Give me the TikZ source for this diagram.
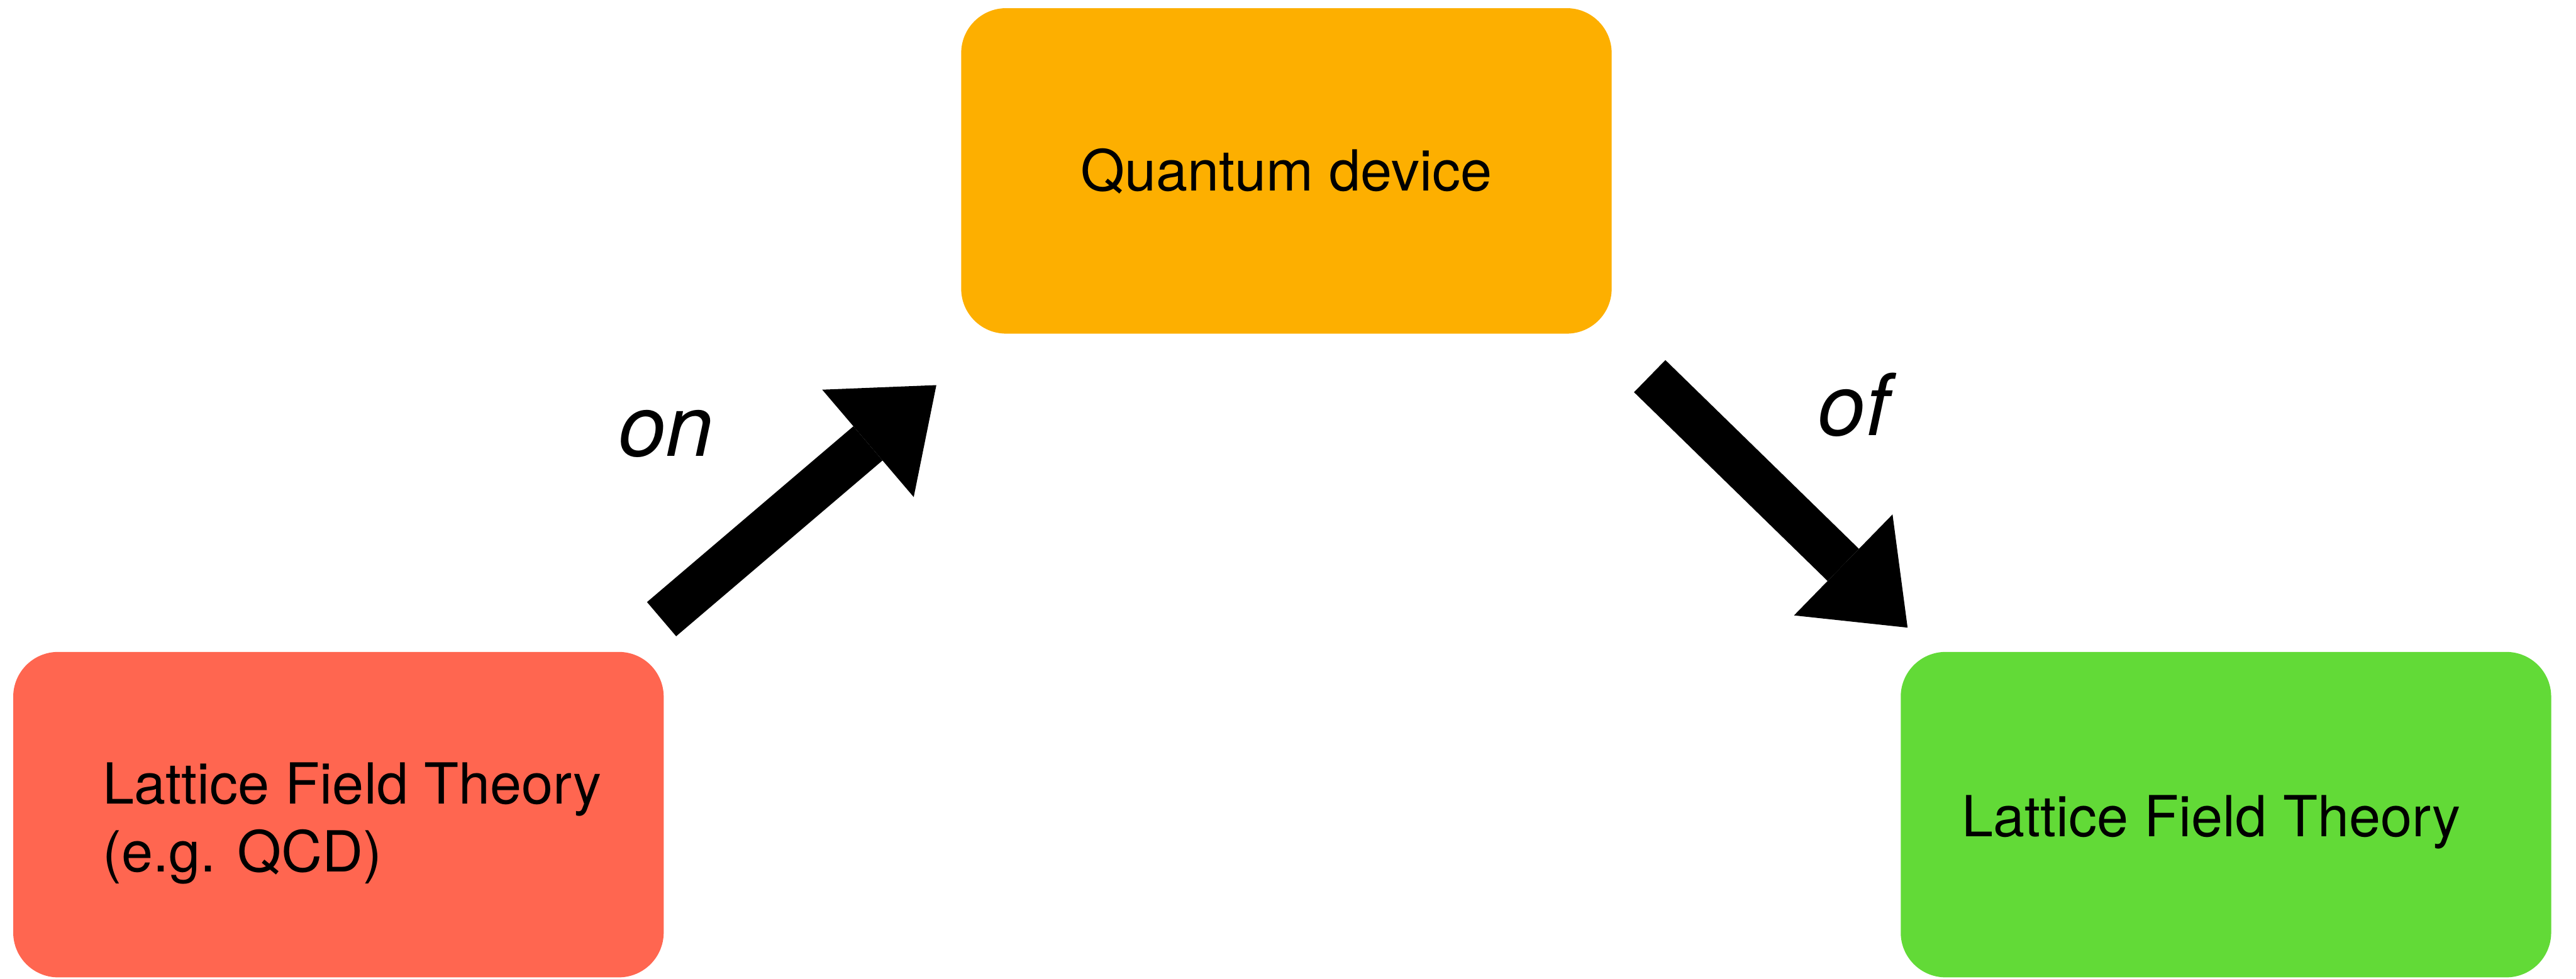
\documentclass[tikz,border=0pt]{standalone}
\usepackage{fontspec}
\setmainfont{TeX Gyre Heros}
\usetikzlibrary{arrows.meta}
\definecolor{qorange}{HTML}{FDAF00}
\definecolor{lftred}{HTML}{FF6650}
\definecolor{rgtgreen}{HTML}{62DA37}
\begin{document}
\begin{tikzpicture}
[boxdecorate/.style={shape=rectangle,rounded corners=0.85cm,%
    minimum width=12.31cm,minimum height=6.16cm,inner sep=0pt},%
  textdecorate/.style={font=\fontsize{30.5}{36.4}\selectfont,inner sep=0pt},%
  labeldecorate/.style={font=\fontsize{46}{55}\selectfont\itshape,inner sep=0pt,anchor=base},%
  arrowdecorate/.style={line width=0.85cm,%
    -{Triangle[length=1.7cm,width=2.67cm,line width=0pt]}}]
\useasboundingbox (0,0) rectangle (48.75,18.52);
%% boxes
\foreach \nodename/\x/\y/\col in {
  lft/6.405/3.10/lftred, qdev/24.345/15.285/qorange, rgt/42.125/3.10/rgtgreen}
{
  \node (\nodename) at (\x,\y) [boxdecorate,fill=\col] {};
}
%% box texts
\node (qdevtext) at (qdev) [textdecorate] {Quantum device};
\node (lfttext) at (1.94,4.09) [textdecorate,anchor=north west,align=left]
  {Lattice Field Theory\\(e.g. QCD)};
\node (rgttext) at (37.12,2.69) [textdecorate,anchor=base west] {Lattice Field Theory};
%% arrow ends
\foreach \nodename/\x/\y in {
  ontail/12.52/6.80, ontip/17.72/11.23,
  oftail/31.22/11.40, oftip/36.10/6.64}
{
  \coordinate (\nodename) at (\x,\y);
}
%% arrows and their words
\foreach \startnode/\endnode in {ontail/ontip, oftail/oftip}
{
  \draw[arrowdecorate] (\startnode) -- (\endnode);
}
\node (onlabel) at (12.60,9.89) [labeldecorate] {on};
\node (oflabel) at (35.08,10.28) [labeldecorate] {of};
\end{tikzpicture}
\end{document}
